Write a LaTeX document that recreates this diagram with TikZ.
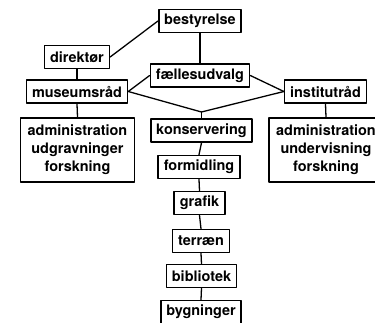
\documentclass[tikz,border=0pt]{standalone}
\usepackage{fontspec}
\setmainfont{TeX Gyre Heros}
\usetikzlibrary{calc}
\tikzset{boks/.style={draw,line width=1.6pt,inner xsep=5.5bp,inner ysep=0pt,minimum height=23bp,align=center,
    font=\fontsize{14.5}{18}\selectfont\bfseries}}

\begin{document}
\begin{tikzpicture}[line cap=round,line join=round,x=1bp,y=-1bp]
                \useasboundingbox (0,0) rectangle (375,323);
                % top
                \node[boks] (bestyrelse) at (200,21) {bestyrelse};
                \node[boks] (direktor) at (77,57) {direktør};
                \node[boks] (faelles) at (200,75.5) {fællesudvalg};
                \node[boks] (museumsraad) at (77,91.5) {museumsråd};
                \node[boks] (institutraad) at (325.5,91.5) {institutråd};
                % middle row
                \node[boks,minimum height=64bp,inner xsep=7bp] (admleft) at (77.5,150) {administration\\udgravninger\\forskning};
                \node[boks] (konservering) at (201.5,130.5) {konservering};
                \node[boks,minimum height=64bp,inner xsep=7bp] (admright) at (326,150) {administration\\undervisning\\forskning};
                % chain
                \node[boks] (formidling) at (199,167) {formidling};
                \node[boks] (grafik) at (199.5,203) {grafik};
                \node[boks] (terraen) at (201,241) {terræn};
                \node[boks] (bibliotek) at (201.5,276) {bibliotek};
                \node[boks] (bygninger) at (201,312) {bygninger};
                \coordinate (knude) at (201.5,112);
                % connectors
                \draw [line width=1.3pt] (bestyrelse.west)-- (direktor.east);
                \draw [line width=1.3pt] (bestyrelse.south)-- (faelles.north);
                \draw [line width=1.3pt] (direktor.south)-- (museumsraad.north);
                \draw [line width=1.3pt] (faelles.west)-- (museumsraad.east);
                \draw [line width=1.3pt] (faelles.east)-- (institutraad.west);
                \draw [line width=1.3pt] (museumsraad.east)-- (knude)-- (institutraad.west);
                \draw [line width=1.3pt] (knude)-- (konservering.north);
                \draw [line width=1.3pt] (museumsraad.south)-- (admleft.north);
                \draw [line width=1.3pt] (institutraad.south)-- (admright.north);
                \foreach \a/\b in {konservering/formidling,formidling/grafik,grafik/terraen,terraen/bibliotek,bibliotek/bygninger}
                    \draw [line width=1.3pt] (\a.south)-- (\b.north);
\end{tikzpicture}
\end{document}
